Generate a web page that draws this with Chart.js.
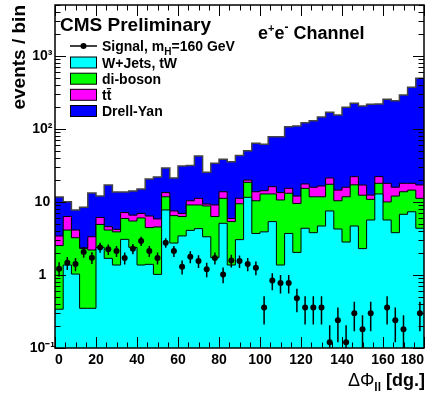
<!DOCTYPE html>
<html><head><meta charset="utf-8">
<script src="https://cdn.jsdelivr.net/npm/chart.js@4.4.1/dist/chart.umd.min.js"></script>
<style>html,body{margin:0;padding:0;background:#fff;}canvas{display:block;}</style>
</head><body>
<canvas id="c" width="435" height="394"></canvas>
<script>
// ---- data ----
const binEdges = [0,4,8,12,16,20,24,28,32,36,40,44,48,52,56,60,64,68,72,76,80,84,88,92,96,100,104,108,112,116,120,124,128,132,136,140,144,148,152,156,160,164,168,172,176,180];
const binCenters = [2,6,10,14,18,22,26,30,34,38,42,46,50,54,58,62,66,70,74,78,82,86,90,94,98,102,106,110,114,118,122,126,130,134,138,142,146,150,154,158,162,166,170,174,178];
const wjets = [0.34,1.37,1.03,0.35,0.35,2.39,1.69,1.37,3.08,2.39,1.37,1.40,1.02,7.78,2.74,3.43,4.09,4.32,3.34,1.73,5.11,1.37,3.05,11.6,3.71,3.90,5.39,1.37,3.71,2.04,4.37,3.80,4.69,7.54,4.27,2.83,4.69,2.30,5.67,12.9,5.67,3.80,6.79,7.35,4.37];
const diboson = [2.19,2.76,2.21,1.95,1.85,2.54,2.44,2.53,2.87,3.10,4.68,3.06,3.53,4.01,3.77,2.89,5.02,4.79,5.49,4.59,6.12,4.02,6.42,6.99,6.69,9.00,7.51,9.30,9.47,7.53,11.0,7.99,7.10,9.96,6.13,8.96,12.5,10.1,5.20,5.14,4.36,8.26,7.03,7.20,6.86];
const ttbar = [0.89,2.20,0.89,0.05,1.14,1.21,0.46,0.32,1.22,1.12,0.93,1.97,1.31,1.66,1.03,0.66,1.29,2.12,0.55,2.79,2.59,0.56,1.76,1.37,3.42,1.39,3.32,2.78,2.21,2.49,2.30,4.15,4.78,3.84,4.15,4.15,5.05,4.69,1.57,4.23,8.01,3.88,4.22,3.49,5.90];
const drellyan = [8.27,3.77,3.64,6.11,9.96,5.96,12.5,9.48,6.53,7.49,8.12,14.3,16.1,15.8,13.8,24.1,21.2,31.5,16.2,24.8,24.7,29.7,32.2,30.4,49.9,47.4,62.3,65.1,92.2,97.9,104,114,130,148,141,182,203,190,206,198,237,228,274,355,478];
const signal = [1.22,1.47,1.42,2.07,1.73,2.39,2.25,2.13,1.71,2.29,2.92,2.13,1.71,2.77,2.13,1.30,1.78,1.56,1.20,1.71,1.02,1.58,1.55,1.42,1.26,0.36,0.84,0.78,0.78,0.48,0.36,0.36,0.36,0.12,0.24,0.12,0.30,0.18,0.30,null,0.36,0.24,0.18,null,0.30];
const signalErr = [0.27,0.30,0.29,0.35,0.32,0.38,0.37,0.36,0.32,0.37,0.42,0.36,0.32,0.41,0.36,0.28,0.33,0.31,0.27,0.32,0.25,0.31,0.30,0.29,0.27,0.15,0.22,0.22,0.22,0.17,0.15,0.15,0.15,0.085,0.12,0.085,0.13,0.10,0.13,null,0.15,0.12,0.10,null,0.13];
const xTickValues = [0,20,40,60,80,100,120,140,160,180];
const yTickValues = [0.1,1,10,100,1000];
const yTickLabels = ['10\u207B\u00B9','1','10','10\u00B2','10\u00B3'];
const seriesLabels = ['Signal, m_H=160 GeV','W+Jets, tW','di-boson','t\u0074\u0304','Drell-Yan'];
const seriesColors = ['#000000','#00ffff','#00ff00','#ff00ff','#0000ff'];

// ---- build ----
const FONT = '"Liberation Sans", Arial, Helvetica, sans-serif';
const fnt = (s, b) => (b ? 'bold ' : '') + s + 'px ' + FONT;
function cumulate(...arrs) { return binCenters.map((_, i) => arrs.reduce((s, a) => s + a[i], 0)); }
function stepData(tops) {
  const d = binCenters.map((_, i) => ({x: binEdges[i], y: tops[i]}));
  d.push({x: binEdges[binEdges.length - 1], y: tops[tops.length - 1]});
  return d;
}
const topW = cumulate(wjets);
const topDB = cumulate(wjets, diboson);
const topTT = cumulate(wjets, diboson, ttbar);
const topDY = cumulate(wjets, diboson, ttbar, drellyan);
const sigPts = binCenters.map((x, i) => ({x, y: signal[i]}));
const errPts = [];
binCenters.forEach((x, i) => {
  if (signal[i] == null) return;
  errPts.push({x, y: signal[i] - signalErr[i]}, {x, y: signal[i] + signalErr[i]}, {x, y: null});
});

function stackDs(label, tops, color, order, lineColor, lw) {
  return {label, data: stepData(tops), backgroundColor: color, borderColor: lineColor || '#000',
    borderWidth: lw || 1, fill: 'start', stepped: true, pointRadius: 0, tension: 0, order};
}

function drawParts(ctx, parts, x, y, align) {
  let w = 0;
  parts.forEach(p => { ctx.font = p.font; p.w = ctx.measureText(p.text).width; w += p.w; });
  let cx = align === 'right' ? x - w : x;
  parts.forEach(p => { ctx.font = p.font; ctx.fillText(p.text, cx, y + (p.dy || 0)); cx += p.w; });
}

const framePlugin = {
  id: 'frame',
  afterDatasetsDraw(chart) {
    const {ctx, chartArea: {left, right, top, bottom}, scales: {x, y}} = chart;
    ctx.save();
    ctx.strokeStyle = '#000';
    ctx.lineWidth = 1;
    ctx.beginPath();
    for (let v = 0; v <= 180; v += 5) {
      const px = Math.round(x.getPixelForValue(v)) + 0.5;
      const L = v % 20 === 0 ? 11 : 5.5;
      ctx.moveTo(px, bottom); ctx.lineTo(px, bottom - L);
      ctx.moveTo(px, top); ctx.lineTo(px, top + L);
    }
    for (let d = -1; d <= 3; d++) {
      for (let m = 1; m <= 9; m++) {
        const v = m * Math.pow(10, d);
        if (v > y.max) continue;
        const py = Math.round(y.getPixelForValue(v)) + 0.5;
        const L = m === 1 ? 11 : 5.5;
        ctx.moveTo(left, py); ctx.lineTo(left + L, py);
        ctx.moveTo(right, py); ctx.lineTo(right - L, py);
      }
    }
    ctx.stroke();
    ctx.lineWidth = 1.5;
    ctx.strokeRect(left, top, right - left, bottom - top);
    ctx.restore();
  }
};

const textPlugin = {
  id: 'texts',
  afterDraw(chart) {
    const {ctx, chartArea: {right}} = chart;
    ctx.save();
    ctx.fillStyle = '#000';
    ctx.textBaseline = 'alphabetic';
    ctx.textAlign = 'left';
    ctx.font = fnt(19, true);
    ctx.fillText('CMS Preliminary', 60, 31);
    drawParts(ctx, [
      {text: 'e', font: fnt(18, true)},
      {text: '+', font: fnt(11, true), dy: -7},
      {text: 'e', font: fnt(18, true)},
      {text: '-', font: fnt(12, true), dy: -8},
      {text: ' Channel', font: fnt(18, true)}
    ], 258, 39, 'left');
    // legend
    const cys = [46, 62.5, 78.7, 94.8, 111];
    cys.forEach((cy, i) => {
      if (i === 0) {
        ctx.strokeStyle = '#000'; ctx.lineWidth = 1.5;
        ctx.beginPath(); ctx.moveTo(70, cy); ctx.lineTo(97, cy); ctx.stroke();
        ctx.beginPath(); ctx.arc(83.5, cy, 3, 0, Math.PI * 2); ctx.fill();
        drawParts(ctx, [
          {text: 'Signal, m', font: fnt(14, true)},
          {text: 'H', font: fnt(10, true), dy: 4},
          {text: '=160 GeV', font: fnt(14, true)}
        ], 102, cy + 5, 'left');
      } else {
        ctx.fillStyle = seriesColors[i];
        ctx.fillRect(70, cy - 5.5, 27, 11);
        ctx.strokeStyle = '#000'; ctx.lineWidth = 1;
        ctx.strokeRect(70.5, cy - 5.5, 26, 11);
        ctx.fillStyle = '#000';
        ctx.font = fnt(14, true);
        ctx.fillText(seriesLabels[i], 102, cy + 5);
      }
    });
    // x-axis title
    drawParts(ctx, [
      {text: '\u0394\u03A6', font: fnt(18, false)},
      {text: 'll', font: fnt(12, true), dy: 5},
      {text: ' [dg.]', font: fnt(18, true)}
    ], right + 1, 386, 'right');
    ctx.restore();
  }
};

Chart.defaults.font.family = FONT;
Chart.defaults.color = '#000';

new Chart(document.getElementById('c'), {
  type: 'line',
  data: {
    datasets: [
      stackDs(seriesLabels[4], topDY, seriesColors[4], 6, '#444', 1.5),
      stackDs(seriesLabels[3], topTT, seriesColors[3], 5),
      stackDs(seriesLabels[2], topDB, seriesColors[2], 4),
      stackDs(seriesLabels[1], topW, seriesColors[1], 3),
      {label: 'Signal error', data: errPts, borderColor: '#000', borderWidth: 1.5, pointRadius: 0,
       fill: false, spanGaps: false, order: 2},
      {label: seriesLabels[0], data: sigPts, showLine: false, pointRadius: 3, pointBackgroundColor: '#000',
       pointBorderWidth: 0, pointBorderColor: '#000', fill: false, order: 1}
    ]
  },
  options: {
    responsive: false,
    animation: false,
    devicePixelRatio: 1,
    layout: {padding: {left: 0, right: 11, top: 5, bottom: 0}},
    plugins: {legend: {display: false}, tooltip: {enabled: false}},
    scales: {
      x: {
        type: 'linear', min: 0, max: 180,
        afterBuildTicks: s => { s.ticks = xTickValues.map(v => ({value: v})); },
        afterFit: s => { s.height = 46; s.paddingLeft = 0; s.paddingRight = 0; },
        ticks: {font: {size: 14, weight: 'bold'}, color: '#000', padding: 4, align: 'inner',
                autoSkip: false, maxRotation: 0, callback: v => String(v)},
        grid: {display: false, drawTicks: false},
        border: {display: false}
      },
      y: {
        type: 'logarithmic', min: 0.1, max: 5000,
        afterBuildTicks: s => { s.ticks = yTickValues.map(v => ({value: v, major: true})); },
        afterFit: s => { s.width = 55; s.paddingTop = 0; s.paddingBottom = 0; },
        ticks: {font: {size: 14, weight: 'bold'}, color: '#000', padding: 0, crossAlign: 'center',
                autoSkip: false, callback: (v, i) => yTickLabels[i]},
        grid: {display: false, drawTicks: false},
        border: {display: false},
        title: {display: true, text: 'events / bin', align: 'end', color: '#000',
                font: {size: 19, weight: 'bold'}, padding: {top: 8, bottom: 0}}
      }
    }
  },
  plugins: [framePlugin, textPlugin]
});
</script>
</body></html>
